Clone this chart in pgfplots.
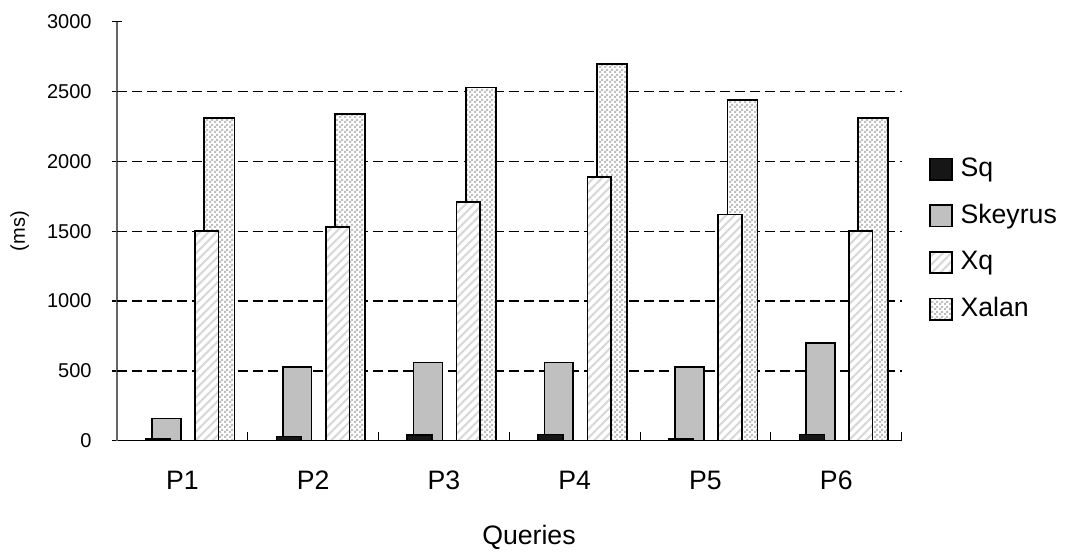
\documentclass[border=0pt]{standalone}
\usepackage{fontspec}
\setmainfont{Liberation Sans}
\usepackage{pgfplots}
\pgfplotsset{compat=1.18}
\usetikzlibrary{patterns,patterns.meta}

% small grey/white checkerboard used for the Xalan bars
\tikzdeclarepattern{
  name=checker,
  type=uncolored,
  bounding box={(0pt,0pt) and (3.4pt,3.4pt)},
  tile size={(3.4pt,3.4pt)},
  code={
    \pgfpathrectangle{\pgfpoint{0pt}{0pt}}{\pgfpoint{1.7pt}{1.7pt}}
    \pgfpathrectangle{\pgfpoint{1.7pt}{1.7pt}}{\pgfpoint{1.7pt}{1.7pt}}
    \pgfusepath{fill}
  }
}

\definecolor{sqcol}{HTML}{161616}
\definecolor{skcol}{HTML}{C0C0C0}

\tikzset{
  sqstyle/.style={draw=black, line width=1.3pt, fill=sqcol},
  skstyle/.style={draw=black, line width=1.3pt, fill=skcol},
  xqstyle/.style={draw=black, line width=1.3pt, fill=white,
    postaction={pattern={Lines[angle=45,distance=4.5pt,line width=1.6pt]}, pattern color=gray!30}},
  xastyle/.style={draw=black, line width=1.3pt, fill=white,
    postaction={pattern=checker, pattern color=gray!50}},
}

\begin{document}
\begin{tikzpicture}
\useasboundingbox (0,0) rectangle (800.25pt,413.25pt);
\begin{axis}[
  at={(87.75pt,82.7pt)}, anchor=south west,
  scale only axis, width=588.5pt, height=314.25pt,
  xmin=-0.5, xmax=5.5, ymin=0, ymax=3000,
  axis lines*=left,
  x axis line style={black, line width=1.1pt},
  y axis line style={black!60, line width=1.1pt},
  xtick={0,...,5},
  xticklabels={P1,P2,P3,P4,P5,P6},
  minor xtick={-0.5,0.5,...,5.5},
  every major x tick/.style={draw=none},
  every minor x tick/.style={black, line width=0.9pt, yshift=3.2pt},
  minor tick length=6.4pt,
  ytick={0,500,...,3000},
  tick align=center,
  major tick length=6.8pt,
  every major y tick/.style={black, line width=0.9pt},
  extra y ticks={500,1000,1500,2000,2500},
  extra y tick labels={},
  extra y tick style={grid=major, major tick length=0pt},
  grid style={black, line width=1.1pt, dash pattern=on 7.5pt off 3.8pt},
  /pgf/number format/assume math mode=true,
  /pgf/number format/1000 sep={},
  yticklabel style={font=\fontsize{15}{17}\selectfont, inner sep=0pt, xshift=-15.5pt, anchor=east},
  xticklabel style={font=\fontsize{20}{22}\selectfont, inner sep=0pt, yshift=-19pt, anchor=north},
  ylabel={(ms)},
  xlabel={Queries},
  every axis y label/.style={at={(axis description cs:-0.124,0.5)}, anchor=center, rotate=90, font=\fontsize{15}{17}\selectfont},
  every axis x label/.style={at={(axis description cs:0.525,-0.23)}, anchor=center, font=\fontsize{20}{22}\selectfont},
  legend style={
    at={(axis description cs:1.03,0.687)}, anchor=north west,
    draw=none, fill=none,
    font=\fontsize{20}{22}\selectfont,
    row sep=14pt,
    nodes={inner sep=1pt, text height=14.5pt, text depth=4.5pt},
    /tikz/every odd column/.append style={column sep=5pt},
  },
  legend cell align=left,
  legend image code/.code={\draw[#1] (0pt,-7.5pt) rectangle (16pt,8.5pt);},
]
% legend entries in series order
\addlegendimage{sqstyle}
\addlegendentry{Sq}
\addlegendimage{skstyle}
\addlegendentry{Skeyrus}
\addlegendimage{xqstyle}
\addlegendentry{Xq}
\addlegendimage{xastyle}
\addlegendentry{Xalan}

% Skeyrus (behind Sq)
\addplot[ybar, bar width=0.22, bar shift=-0.122, skstyle, forget plot]
  coordinates {(0,160) (1,530) (2,560) (3,560) (4,530) (5,700)};
% Sq
\addplot[ybar, bar width=0.19, bar shift=-0.186, sqstyle, forget plot]
  coordinates {(0,15) (1,30) (2,40) (3,45) (4,15) (5,45)};
% Xalan (behind Xq)
\addplot[ybar, bar width=0.23, bar shift=0.283, xastyle, forget plot]
  coordinates {(0,2310) (1,2340) (2,2530) (3,2700) (4,2440) (5,2310)};
% Xq
\addplot[ybar, bar width=0.18, bar shift=0.187, xqstyle, forget plot]
  coordinates {(0,1500) (1,1530) (2,1710) (3,1890) (4,1620) (5,1500)};
\end{axis}
\end{tikzpicture}
\end{document}
